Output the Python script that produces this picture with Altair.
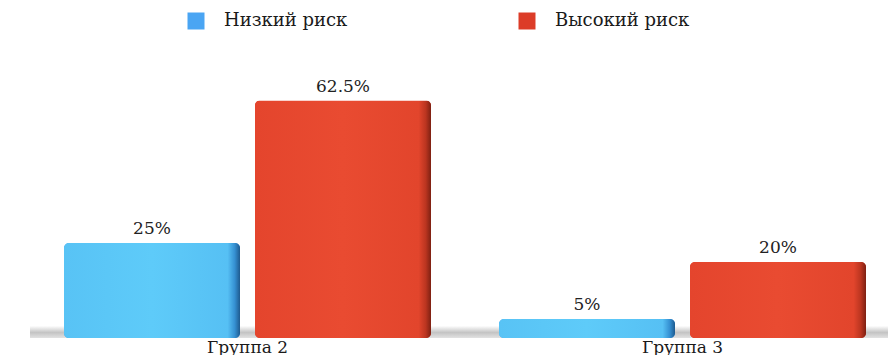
import altair as alt
import pandas as pd

groups = ["Группа 2", "Группа 3"]
series = ["Низкий риск", "Высокий риск"]
low_risk = [25, 5]
high_risk = [62.5, 20]
low_labels = ["25%", "5%"]
high_labels = ["62.5%", "20%"]
legend_colors = ["#4aa5f3", "#dc3c28"]

rows = []
for i, g in enumerate(groups):
    rows.append({"group": g, "series": series[0], "value": low_risk[i], "label": low_labels[i]})
    rows.append({"group": g, "series": series[1], "value": high_risk[i], "label": high_labels[i]})
df = pd.DataFrame(rows)

FONT = "DejaVu Serif"

blue_grad = {"gradient": "linear", "x1": 0, "x2": 1, "y1": 0, "y2": 0,
             "stops": [{"offset": 0, "color": "#58c3f5"},
                       {"offset": 0.5, "color": "#5ecbf9"},
                       {"offset": 0.93, "color": "#56c0f4"},
                       {"offset": 0.97, "color": "#3590d2"},
                       {"offset": 1, "color": "#1e5a8e"}]}
red_grad = {"gradient": "linear", "x1": 0, "x2": 1, "y1": 0, "y2": 0,
            "stops": [{"offset": 0, "color": "#e4452d"},
                      {"offset": 0.5, "color": "#e94b31"},
                      {"offset": 0.93, "color": "#e2452c"},
                      {"offset": 0.97, "color": "#bb3520"},
                      {"offset": 1, "color": "#7e2012"}]}
shadow_grad = {"gradient": "linear", "x1": 0, "x2": 0, "y1": 0, "y2": 1,
               "stops": [{"offset": 0, "color": "#ffffff"},
                         {"offset": 0.55, "color": "#c4c4c4"},
                         {"offset": 1, "color": "#e2e2e2"}]}

x_scale = alt.Scale(paddingInner=0, paddingOuter=0, range=[22, 892])
y_scale = alt.Scale(domain=[0, 70])
x_axis = alt.Axis(title=None, domain=False, ticks=False, labelAngle=0,
                  labelFont=FONT, labelFontSize=17, labelColor="#1a1a1a",
                  labelPadding=1)

x = alt.X("group:N", sort=groups, scale=x_scale, axis=x_axis)
xo = alt.XOffset("series:N", sort=series,
                 scale=alt.Scale(paddingInner=0.0785, paddingOuter=0.178))
y = alt.Y("value:Q", scale=y_scale, axis=None)

base = alt.Chart(df).encode(x=x, xOffset=xo, y=y)

shadow = alt.Chart(df).transform_calculate(
    top="3.2", bottom="0"
).mark_rect(fill=shadow_grad).encode(
    x=x,
    y=alt.Y("top:Q", scale=y_scale, axis=None),
    y2=alt.Y2("bottom:Q"))

bars = base.mark_bar(cornerRadius=5).encode(
    color=alt.Color("series:N", sort=series,
                    scale=alt.Scale(domain=series, range=legend_colors),
                    legend=alt.Legend(title=None, orient="none", legendX=179, legendY=-60,
                                      direction="horizontal", symbolType="square",
                                      symbolSize=289, symbolStrokeWidth=0,
                                      labelFont=FONT, labelFontSize=18,
                                      labelColor="#1a1a1a", labelOffset=19,
                                      columnPadding=170)))

blue = base.transform_filter(alt.datum.series == series[0]).mark_bar(
    cornerRadius=5, fill=blue_grad)
red = base.transform_filter(alt.datum.series == series[1]).mark_bar(
    cornerRadius=5, fill=red_grad)

labels = base.mark_text(dy=-9, baseline="alphabetic", font=FONT, fontSize=17,
                        color="#222222").encode(text="label:N")

chart = alt.layer(shadow, bars, blue, red, labels).properties(
    width=880, height=266,
    autosize=alt.AutoSizeParams(type="none"),
    padding={"left": 0, "top": 64, "right": 0, "bottom": 17},
    background="white",
).configure_view(stroke=None)

chart.save("out.html", embed_options={"renderer": "svg", "actions": False})
